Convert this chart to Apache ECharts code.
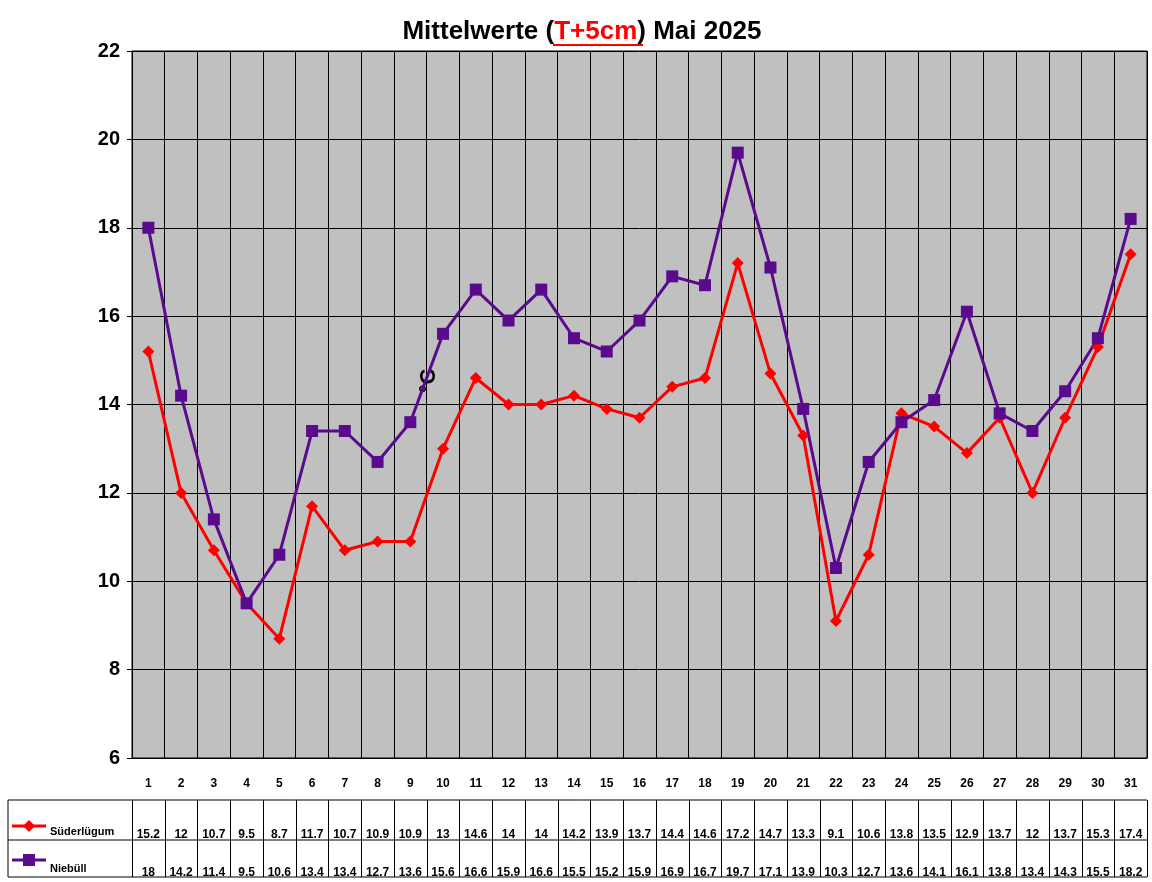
<!DOCTYPE html>
<html><head><meta charset="utf-8">
<script src="https://cdn.jsdelivr.net/npm/echarts@6/dist/echarts.min.js"></script>
<style>html,body{margin:0;padding:0;background:#fff}#c{width:1152px;height:882px}</style>
</head><body><div id="c"></div>
<script>
const days = Array.from({length:31},(_,i)=>String(i+1));
const suederluegum = [15.2,12,10.7,9.5,8.7,11.7,10.7,10.9,10.9,13,14.6,14,14,14.2,13.9,13.7,14.4,14.6,17.2,14.7,13.3,9.1,10.6,13.8,13.5,12.9,13.7,12,13.7,15.3,17.4];
const niebuell = [18,14.2,11.4,9.5,10.6,13.4,13.4,12.7,13.6,15.6,16.6,15.9,16.6,15.5,15.2,15.9,16.9,16.7,19.7,17.1,13.9,10.3,12.7,13.6,14.1,16.1,13.8,13.4,14.3,15.5,18.2];
const L=132,R=1147,T=51,B=758;
const chart = echarts.init(document.getElementById('c'));
const font='Arial, Liberation Sans, sans-serif';
const lab=(off,data)=>({type:'category',data:days,position:'bottom',offset:off,gridIndex:0,
  axisLine:{show:false},axisTick:{show:false},splitLine:{show:false},
  axisLabel:{interval:0,fontFamily:font,fontWeight:'bold',fontSize:12,color:'#000',formatter:(v,i)=>String(data[i])}});
const tw=(R-L)/31;
const g=[];
// table lines
const tTop=800,tMid=840,tBot=877;
g.push({type:'line',shape:{x1:8,y1:tTop,x2:R,y2:tTop},style:{stroke:'#000',lineWidth:1}});
g.push({type:'line',shape:{x1:8,y1:tMid,x2:R,y2:tMid},style:{stroke:'#000',lineWidth:1}});
g.push({type:'line',shape:{x1:8,y1:tBot,x2:R,y2:tBot},style:{stroke:'#000',lineWidth:1}});
g.push({type:'line',shape:{x1:8,y1:tTop,x2:8,y2:tBot},style:{stroke:'#000',lineWidth:1}});
for(let i=0;i<=31;i++){const x=Math.round(L+i*tw)+0.5;g.push({type:'line',shape:{x1:x,y1:tTop,x2:x,y2:tBot},style:{stroke:'#000',lineWidth:1}});}
// legend keys
g.push({type:'line',shape:{x1:12,y1:826,x2:46,y2:826},style:{stroke:'#ff0000',lineWidth:3}});
g.push({type:'polygon',shape:{points:[[29,820],[35,826],[29,832],[23,826]]},style:{fill:'#ff0000'}});
g.push({type:'text',style:{x:50,y:832,text:'Süderlügum',font:'bold 11px '+font,fill:'#000',textVerticalAlign:'middle'}});
g.push({type:'line',shape:{x1:12,y1:860,x2:46,y2:860},style:{stroke:'#5a0a8c',lineWidth:3}});
g.push({type:'rect',shape:{x:23,y:854,width:12,height:12},style:{fill:'#5a0a8c'}});
g.push({type:'text',style:{x:50,y:869,text:'Niebüll',font:'bold 11px '+font,fill:'#000',textVerticalAlign:'middle'}});
// title
g.push({type:'text',style:{x:582,y:32,text:'{a|Mittelwerte (}{b|T+5cm}{a|) Mai 2025}',align:'center',verticalAlign:'middle',
  rich:{a:{font:'bold 26px '+font,fill:'#000'},b:{font:'bold 26px '+font,fill:'#ff0000'}}}});
g.push({type:'line',shape:{x1:553,y1:45,x2:643,y2:45},style:{stroke:'#ff0000',lineWidth:2}});
g.push({type:'text',style:{x:24,y:405,text:'°C',font:'bold 22px '+font,fill:'#000',align:'center',verticalAlign:'middle'},rotation:Math.PI/2,x:24,y:405,originX:0,originY:0});
chart.setOption({
  animation:false,
  grid:{left:L,right:1152-R,top:T,bottom:882-B,backgroundColor:'#c0c0c0',show:true,borderColor:'#000',borderWidth:1},
  xAxis:[{type:'category',data:days,boundaryGap:true,
    axisLine:{lineStyle:{color:'#000'}},axisTick:{show:false},
    splitLine:{show:true,interval:0,lineStyle:{color:'#000',width:1}},
    axisLabel:{interval:0,margin:20,fontFamily:font,fontWeight:'bold',fontSize:12,color:'#000'}},
    lab(63,suederluegum),lab(101,niebuell)],
  yAxis:{type:'value',min:6,max:22,interval:2,
    axisLine:{show:true,lineStyle:{color:'#000'}},axisTick:{show:true,length:5,lineStyle:{color:'#000'}},
    splitLine:{lineStyle:{color:'#000',width:1}},
    axisLabel:{fontFamily:font,fontWeight:'bold',fontSize:20,color:'#000',margin:12}},
  series:[
    {name:'Süderlügum',type:'line',data:suederluegum,symbol:'diamond',symbolSize:12,
     lineStyle:{color:'#ff0000',width:3},itemStyle:{color:'#ff0000'}},
    {name:'Niebüll',type:'line',data:niebuell,symbol:'rect',symbolSize:12,
     lineStyle:{color:'#5a0a8c',width:3},itemStyle:{color:'#5a0a8c'}}],
  graphic:g
});
</script></body></html>
